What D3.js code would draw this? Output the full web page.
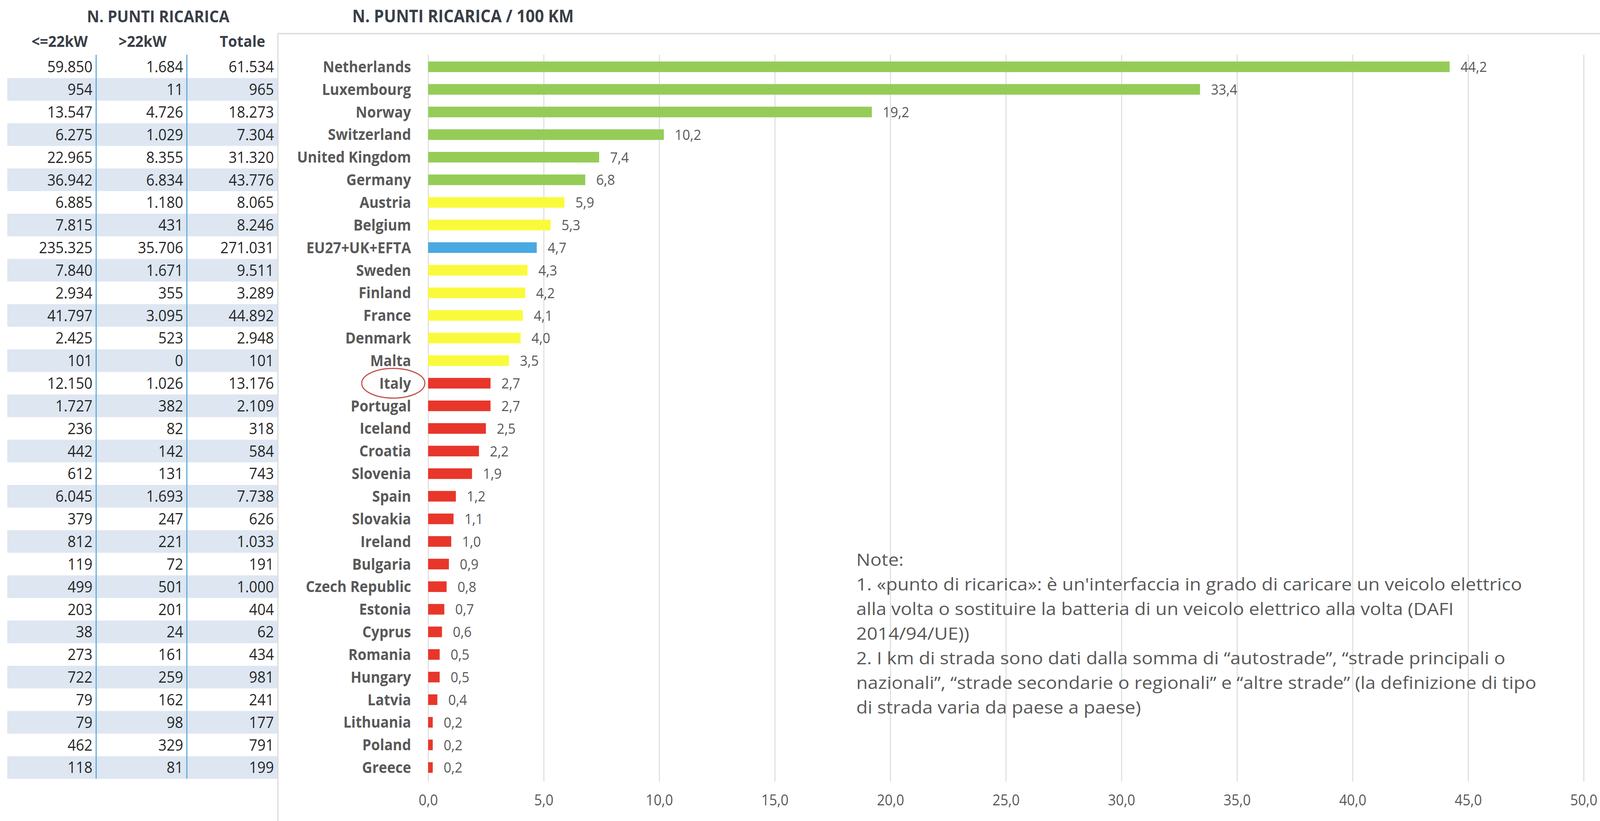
<!DOCTYPE html>
<html>
<head>
<meta charset="utf-8">
<script src="https://cdn.jsdelivr.net/npm/d3@7"></script>
<style>
  html, body { margin: 0; padding: 0; background: #fff; overflow: hidden; width: 100%; height: 100%; }
  #chart { width: 100vw; height: 100vh; }
  svg { display: block; }
  text { font-family: "Open Sans", sans-serif; }
</style>
</head>
<body>
<div id="chart"></div>
<script>
const width = 4410
const height = 2101

// data
const countries = ["Netherlands", "Luxembourg", "Norway", "Switzerland", "United Kingdom", "Germany",
  "Austria", "Belgium", "EU27+UK+EFTA", "Sweden", "Finland", "France", "Denmark", "Malta", "Italy",
  "Portugal", "Iceland", "Croatia", "Slovenia", "Spain", "Slovakia", "Ireland", "Bulgaria",
  "Czech Republic", "Estonia", "Cyprus", "Romania", "Hungary", "Latvia", "Lithuania", "Poland", "Greece"]
const per100km = [44.2, 33.4, 19.2, 10.2, 7.4, 6.8, 5.9, 5.3, 4.7, 4.3, 4.2, 4.1, 4.0, 3.5, 2.7,
  2.7, 2.5, 2.2, 1.9, 1.2, 1.1, 1.0, 0.9, 0.8, 0.7, 0.6, 0.5, 0.5, 0.4, 0.2, 0.2, 0.2]
const groups = ["high", "high", "high", "high", "high", "high", "mid", "mid", "avg", "mid", "mid",
  "mid", "mid", "mid", "low", "low", "low", "low", "low", "low", "low", "low", "low", "low", "low",
  "low", "low", "low", "low", "low", "low", "low"]
const upTo22 = ["59.850", "954", "13.547", "6.275", "22.965", "36.942", "6.885", "7.815", "235.325",
  "7.840", "2.934", "41.797", "2.425", "101", "12.150", "1.727", "236", "442", "612", "6.045", "379",
  "812", "119", "499", "203", "38", "273", "722", "79", "79", "462", "118"]
const over22 = ["1.684", "11", "4.726", "1.029", "8.355", "6.834", "1.180", "431", "35.706", "1.671",
  "355", "3.095", "523", "0", "1.026", "382", "82", "142", "131", "1.693", "247", "221", "72", "501",
  "201", "24", "161", "259", "162", "98", "329", "81"]
const totals = ["61.534", "965", "18.273", "7.304", "31.320", "43.776", "8.065", "8.246", "271.031",
  "9.511", "3.289", "44.892", "2.948", "101", "13.176", "2.109", "318", "584", "743", "7.738", "626",
  "1.033", "191", "1.000", "404", "62", "434", "981", "241", "177", "791", "199"]
const tableHeaders = ["<=22kW", ">22kW", "Totale"]
const xTicks = [0, 5, 10, 15, 20, 25, 30, 35, 40, 45, 50]
const noteLines = [
  "Note:",
  "1. «punto di ricarica»: è un'interfaccia in grado di caricare un veicolo elettrico",
  "alla volta o sostituire la batteria di un veicolo elettrico alla volta (DAFI",
  "2014/94/UE))",
  "2. I km di strada sono dati dalla somma di “autostrade”, “strade principali o",
  "nazionali”, “strade secondarie o regionali” e “altre strade” (la definizione di tipo",
  "di strada varia da paese a paese)"
]
const colormap = { high: "#95cc58", mid: "#fafa3c", avg: "#4aa8e2", low: "#e8362b" }

const rows = countries.map((c, i) => ({
  country: c, value: per100km[i], group: groups[i],
  cols: [upTo22[i], over22[i], totals[i]]
}))

// svg fills the whole window
const svg = d3.select("#chart").append("svg")
  .attr("width", "100%").attr("height", "100%")
  .attr("viewBox", "0 0 " + width + " " + height)
  .attr("preserveAspectRatio", "none")

const x = d3.scaleLinear().domain([0, 50]).range([1180, 4365])
const y = d3.scaleBand().domain(countries).range([142, 1993]).paddingInner(0.53).paddingOuter(0.265)
const step = y.step()
const rowTop = d => y(d) + y.bandwidth() / 2 - step / 2
const comma = v => d3.format(".1f")(v).replace(".", ",")

// left table
const colRight = [255, 505, 755]
svg.append("g").selectAll("rect")
  .data(rows.filter((d, i) => i % 2 == 1))
  .enter().append("rect")
  .attr("x", 20).attr("width", 745)
  .attr("y", d => rowTop(d.country)).attr("height", step)
  .attr("fill", "#dde6f1")

svg.append("g").selectAll("line")
  .data([265, 515])
  .enter().append("line")
  .attr("x1", d => d).attr("x2", d => d)
  .attr("y1", 140).attr("y2", 1993)
  .attr("stroke", "#5aaad8").attr("stroke-width", 3)

const cells = svg.append("g").selectAll("g")
  .data(rows).enter().append("g")
cells.selectAll("text")
  .data(d => d.cols.map((v, j) => ({ v: v, j: j, c: d.country })))
  .enter().append("text")
  .attr("x", d => colRight[d.j])
  .attr("y", d => y(d.c) + y.bandwidth() / 2)
  .attr("dy", "0.36em")
  .attr("text-anchor", "end")
  .attr("font-size", 40)
  .attr("fill", "#262626")
  .text(d => d.v)

svg.append("g").selectAll("text")
  .data(tableHeaders).enter().append("text")
  .attr("x", (d, i) => [242, 459, 731][i])
  .attr("y", 120)
  .attr("text-anchor", "end")
  .attr("font-size", 40).attr("font-weight", "bold")
  .attr("fill", "#3a3f48")
  .text(d => d)

svg.append("text").attr("x", 436).attr("y", 57)
  .attr("text-anchor", "middle").attr("font-size", 42).attr("font-weight", "bold")
  .attr("fill", "#3a3f48").text("N. PUNTI RICARICA")
svg.append("text").attr("x", 971).attr("y", 57)
  .attr("font-size", 44).attr("font-weight", "bold")
  .attr("fill", "#3a3f48").text("N. PUNTI RICARICA / 100 KM")

// chart frame
svg.append("path")
  .attr("d", "M766," + height + "V86H" + width)
  .attr("fill", "none").attr("stroke", "#d9d9d9").attr("stroke-width", 3)

// grid
const grid = svg.append("g")
  .attr("transform", "translate(0,2000)")
  .call(d3.axisBottom(x).tickValues(xTicks).tickSize(-1860).tickFormat(""))
grid.select(".domain").remove()
grid.selectAll("line").attr("stroke", "#d9d9d9").attr("stroke-width", 2.5)

// axis labels
const axis = svg.append("g")
  .attr("transform", "translate(0,2031)")
  .call(d3.axisBottom(x).tickValues(xTicks).tickSize(0).tickFormat(comma))
axis.select(".domain").remove()
axis.selectAll("text").attr("font-size", 38).attr("fill", "#595959")
  .attr("font-family", "Open Sans, sans-serif").attr("dy", "0.7em")

// bars
svg.append("g").selectAll("rect")
  .data(rows).enter().append("rect")
  .attr("x", x(0))
  .attr("y", d => y(d.country))
  .attr("width", d => x(d.value) - x(0))
  .attr("height", y.bandwidth())
  .attr("fill", d => colormap[d.group])

// value labels
svg.append("g").selectAll("text")
  .data(rows).enter().append("text")
  .attr("x", d => x(d.value) + 30)
  .attr("y", d => y(d.country) + y.bandwidth() / 2)
  .attr("dy", "0.36em")
  .attr("font-size", 37).attr("fill", "#595959")
  .text(d => comma(d.value))

// category labels
const labelX = 1133
svg.append("g").selectAll("text")
  .data(rows).enter().append("text")
  .attr("x", labelX)
  .attr("y", d => y(d.country) + y.bandwidth() / 2)
  .attr("dy", "0.36em")
  .attr("text-anchor", "end")
  .attr("font-size", 39).attr("font-weight", "bold").attr("fill", "#595959")
  .text(d => d.country)

// circle round Italy
svg.append("ellipse")
  .attr("cx", labelX - 49)
  .attr("cy", y("Italy") + y.bandwidth() / 2)
  .attr("rx", 87).attr("ry", 38)
  .attr("fill", "none").attr("stroke", "#c0504d").attr("stroke-width", 3)

// notes (the source font is wide, so stretch a little)
svg.append("g")
  .attr("transform", "translate(2360,0) scale(1.2,1)")
  .selectAll("text")
  .data(noteLines).enter().append("text")
  .attr("x", 0)
  .attr("y", (d, i) => 1448 + i * 63)
  .attr("font-size", 43).attr("fill", "#595959")
  .text(d => d)
</script>
</body>
</html>
